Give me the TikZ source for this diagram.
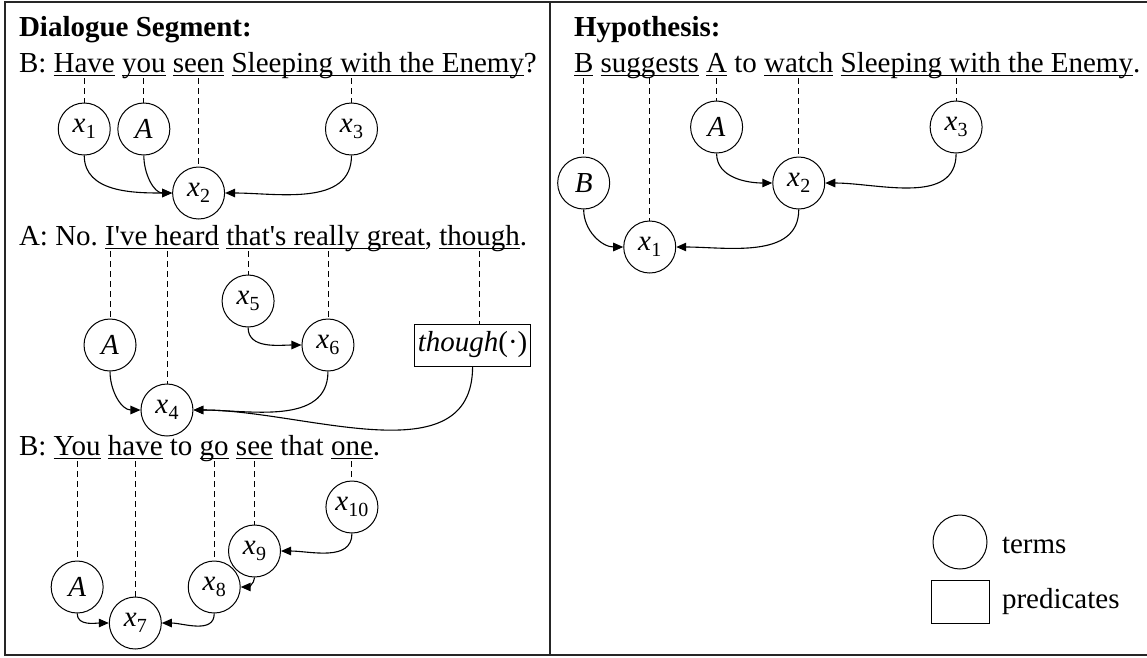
\documentclass[tikz,border=0pt]{standalone}
\usepackage{fontspec}
\setmainfont{Liberation Serif}
\usetikzlibrary{arrows.meta,calc}

% inter-word space of the 29pt text
\newlength\wsp
\setlength\wsp{7.25pt}
% underline at a fixed depth, cutting through descenders
\newcommand\ulseg[1]{\setbox0\hbox{#1}\rlap{\rule[-3.9pt]{\wd0}{1.3pt}}\box0}
% variable with a lowered index
\newcommand\vx[1]{\textit{x}\kern0.2pt\raisebox{-0.21em}{\fontsize{20}{20}\selectfont #1}}

\begin{document}
\begin{tikzpicture}[x=1pt,y=1pt,
  every node/.style={font=\fontsize{29}{35}\selectfont},
  seg/.style={inner sep=0pt,outer sep=0pt,anchor=base west},
  title/.style={seg,font=\fontsize{29}{35}\selectfont\bfseries},
  term/.style={circle,draw,line width=1pt,minimum size=52pt,inner sep=0pt},
  pred/.style={rectangle,draw,line width=1pt,minimum height=42pt,inner xsep=3pt,inner ysep=0pt},
  tie/.style={line width=0.9pt,dash pattern=on 6pt off 4pt},
  rel/.style={line width=1.1pt,-{Triangle[length=10pt,width=8.5pt]}},
  frame/.style={line width=1.4pt,draw=black!85}]

\useasboundingbox (0,0) rectangle (1147,-657);

% panel frame
\draw[frame] (5,-2) rectangle (1160,-655);
\draw[frame] (550,-2) -- (550,-655);

% rows of the graphs
\coordinate (r1a) at (0,-129);
\coordinate (r1b) at (0,-193);
\coordinate (r2a) at (0,-301);
\coordinate (r2b) at (0,-345);
\coordinate (r2c) at (0,-410);
\coordinate (r3a) at (0,-507);
\coordinate (r3b) at (0,-551);
\coordinate (r3c) at (0,-587);
\coordinate (r3d) at (0,-623);
\coordinate (r4a) at (0,-127);
\coordinate (r4b) at (0,-183);
\coordinate (r4c) at (0,-247);

% ---------------- left panel ----------------
\node[title] (t1) at (19,-36) {Dialogue Segment:};

% utterance 1
\node[seg] (l2a) at (19,-72) {B:};
\node[seg] (w2have) at ([xshift=\wsp]l2a.base east) {\ulseg{Have}};
\node[seg] (w2you) at ([xshift=\wsp]w2have.base east) {\ulseg{you}};
\node[seg] (w2seen) at ([xshift=\wsp]w2you.base east) {\ulseg{seen}};
\node[seg] (w2film) at ([xshift=\wsp]w2seen.base east) {\ulseg{Sleeping with the Enemy}};
\node[seg] (w2q) at (w2film.base east) {?};
\coordinate (d2film) at ($(w2film.base west)!0.41!(w2film.base east)$);

\node[term] (L1) at (w2have.base |- r1a) {\vx{1}};
\node[term] (LA) at (w2you.base |- r1a) {\textit{A}};
\node[term] (L2) at (w2seen.base |- r1b) {\vx{2}};
\node[term] (L3) at (d2film |- r1a) {\vx{3}};

\draw[tie] ([yshift=-6pt]w2have.base) -- (L1.north);
\draw[tie] ([yshift=-6pt]w2you.base) -- (LA.north);
\draw[tie] ([yshift=-6pt]w2seen.base) -- (L2.north);
\draw[tie] ([yshift=-6pt]d2film) -- (L3.north);

\draw[rel] (L1.south) to[out=-90,in=180] (L2.west);
\draw[rel] (LA.south) to[out=-90,in=180] (L2.west);
\draw[rel] (L3.south) to[out=-90,in=0] (L2.east);

% utterance 2
\node[seg] (l3a) at (19,-245) {A: No.};
\node[seg] (w3i) at ([xshift=\wsp]l3a.base east) {\ulseg{I}};
\node[seg] (w3heard) at (w3i.base east) {\ulseg{\textquotesingle ve heard}};
\node[seg] (w3that) at ([xshift=\wsp]w3heard.base east) {\ulseg{that}};
\node[seg] (w3great) at (w3that.base east) {\ulseg{\textquotesingle s really great}};
\node[seg] (w3comma) at (w3great.base east) {,};
\node[seg] (w3though) at ([xshift=\wsp]w3comma.base east) {\ulseg{though}};
\node[seg] (w3dot) at (w3though.base east) {.};
\coordinate (d3great) at ($(w3great.base west)!0.375!(w3great.base east)$);

\node[term] (MA) at (w3i.base |- r2b) {\textit{A}};
\node[term] (M4) at (w3heard.base |- r2c) {\vx{4}};
\node[term] (M5) at (w3that.base |- r2a) {\vx{5}};
\node[term] (M6) at (d3great |- r2b) {\vx{6}};
\node[pred] (MP) at ($(w3though.base |- r2b)+(-7,0)$) {\textit{though}(·)};

\draw[tie] ([yshift=-6pt]w3i.base) -- (MA.north);
\draw[tie] ([yshift=-6pt]w3heard.base) -- (M4.north);
\draw[tie] ([yshift=-6pt]w3that.base) -- (M5.north);
\draw[tie] ([yshift=-6pt]d3great) -- (M6.north);
\draw[tie] ([yshift=-6pt]w3though.base) -- (w3though.base |- MP.north);

\draw[rel] (MA.south) to[out=-90,in=180] (M4.west);
\draw[rel] (M5.south) to[out=-90,in=180] (M6.west);
\draw[rel] (M6.south) to[out=-90,in=0] (M4.east);
\draw[rel] (MP.south) to[out=-90,in=0] (M4.east);

% utterance 3
\node[seg] (l4a) at (19,-455) {B:};
\node[seg] (w4you) at ([xshift=\wsp]l4a.base east) {\ulseg{You}};
\node[seg] (w4have) at ([xshift=\wsp]w4you.base east) {\ulseg{have}};
\node[seg] (w4to) at ([xshift=\wsp]w4have.base east) {to};
\node[seg] (w4go) at ([xshift=\wsp]w4to.base east) {\ulseg{go}};
\node[seg] (w4see) at ([xshift=\wsp]w4go.base east) {\ulseg{see}};
\node[seg] (w4that) at ([xshift=\wsp]w4see.base east) {that};
\node[seg] (w4one) at ([xshift=\wsp]w4that.base east) {\ulseg{one}};
\node[seg] (w4dot) at (w4one.base east) {.};

\node[term] (NA) at (w4you.base |- r3c) {\textit{A}};
\node[term] (N7) at (w4have.base |- r3d) {\vx{7}};
\node[term] (N8) at (w4go.base |- r3c) {\vx{8}};
\node[term] (N9) at (w4see.base |- r3b) {\vx{9}};
\node[term] (N10) at (w4one.base |- r3a) {\vx{10}};

\draw[tie] ([yshift=-6pt]w4you.base) -- (NA.north);
\draw[tie] ([yshift=-6pt]w4have.base) -- (N7.north);
\draw[tie] ([yshift=-6pt]w4go.base) -- (N8.north);
\draw[tie] ([yshift=-6pt]w4see.base) -- (N9.north);
\draw[tie] ([yshift=-6pt]w4one.base) -- (N10.north);

\draw[rel] (NA.south) to[out=-90,in=180] (N7.west);
\draw[rel] (N8.south) to[out=-90,in=0] (N7.east);
\draw[rel] (N9.south) to[out=-90,in=0] (N8.east);
\draw[rel] (N10.south) to[out=-90,in=0] (N9.east);

% ---------------- right panel ----------------
\node[title] (t2) at (574,-36) {Hypothesis:};

\node[seg] (w5b) at (574,-72) {\ulseg{B}};
\node[seg] (w5sugg) at ([xshift=\wsp]w5b.base east) {\ulseg{suggests}};
\node[seg] (w5a) at ([xshift=\wsp]w5sugg.base east) {\ulseg{A}};
\node[seg] (w5to) at ([xshift=\wsp]w5a.base east) {to};
\node[seg] (w5watch) at ([xshift=\wsp]w5to.base east) {\ulseg{watch}};
\node[seg] (w5film) at ([xshift=\wsp]w5watch.base east) {\ulseg{Sleeping with the Enemy}};
\node[seg] (w5dot) at (w5film.base east) {.};
\coordinate (d5film) at ($(w5film.base west)!0.395!(w5film.base east)$);

\node[term] (HB) at (w5b.base |- r4b) {\textit{B}};
\node[term] (H1) at (w5sugg.base |- r4c) {\vx{1}};
\node[term] (HA) at (w5a.base |- r4a) {\textit{A}};
\node[term] (H2) at (w5watch.base |- r4b) {\vx{2}};
\node[term] (H3) at (d5film |- r4a) {\vx{3}};

\draw[tie] ([yshift=-6pt]w5b.base) -- (HB.north);
\draw[tie] ([yshift=-6pt]w5sugg.base) -- (H1.north);
\draw[tie] ([yshift=-6pt]w5a.base) -- (HA.north);
\draw[tie] ([yshift=-6pt]w5watch.base) -- (H2.north);
\draw[tie] ([yshift=-6pt]d5film) -- (H3.north);

\draw[rel] (HB.south) to[out=-90,in=180] (H1.west);
\draw[rel] (H2.south) to[out=-90,in=0] (H1.east);
\draw[rel] (HA.south) to[out=-90,in=180] (H2.west);
\draw[rel] (H3.south) to[out=-90,in=0] (H2.east);

% legend
\node[term,minimum size=54pt] (lgT) at (960,-542) {};
\node[seg] (lgTt) at (1002,-553) {terms};
\node[draw,line width=1pt,minimum width=58pt,minimum height=43pt,inner sep=0pt] (lgP) at (960,-601.5) {};
\node[seg] (lgPt) at (1002,-608) {predicates};

\end{tikzpicture}
\end{document}
